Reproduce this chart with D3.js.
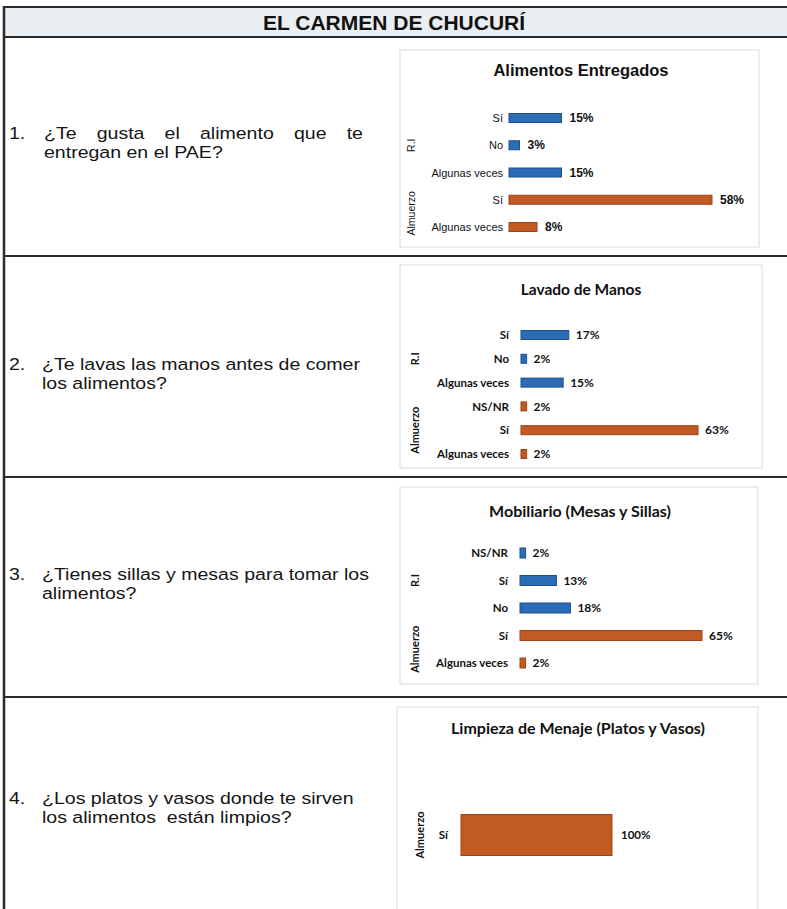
<!DOCTYPE html>
<html>
<head>
<meta charset="utf-8">
<script src="https://cdn.jsdelivr.net/npm/d3@7"></script>
<style>
  html, body { margin: 0; padding: 0; background: #fff; }
  svg { display: block; }
</style>
</head>
<body>
<svg id="page" width="787" height="909"></svg>
<script>
// ---- Content -------------------------------------------------------------
const pageTitle = "EL CARMEN DE CHUCURÍ";

const questionNumbers = ["1.", "2.", "3.", "4."];
const questionFirstLines = [
  "¿Te gusta el alimento que te",
  "¿Te lavas las manos antes de comer",
  "¿Tienes sillas y mesas para tomar los",
  "¿Los platos y vasos donde te sirven"
];
const questionSecondLines = [
  "entregan en el PAE?",
  "los alimentos?",
  "alimentos?",
  "los alimentos  están limpios?"
];

const chartTitles = [
  "Alimentos Entregados",
  "Lavado de Manos",
  "Mobiliario (Mesas y Sillas)",
  "Limpieza de Menaje (Platos y Vasos)"
];

// Chart 1: Alimentos Entregados
const alimentosCategories = ["Sí", "No", "Algunas veces", "Sí", "Algunas veces"];
const alimentosGroups     = ["R.I", "R.I", "R.I", "Almuerzo", "Almuerzo"];
const alimentosValues     = [15, 3, 15, 58, 8];

// Chart 2: Lavado de Manos
const lavadoCategories = ["Sí", "No", "Algunas veces", "NS/NR", "Sí", "Algunas veces"];
const lavadoGroups     = ["R.I", "R.I", "R.I", "Almuerzo", "Almuerzo", "Almuerzo"];
const lavadoValues     = [17, 2, 15, 2, 63, 2];

// Chart 3: Mobiliario (Mesas y Sillas)
const mobiliarioCategories = ["NS/NR", "Sí", "No", "Sí", "Algunas veces"];
const mobiliarioGroups     = ["R.I", "R.I", "R.I", "Almuerzo", "Almuerzo"];
const mobiliarioValues     = [2, 13, 18, 65, 2];

// Chart 4: Limpieza de Menaje (Platos y Vasos)
const limpiezaCategories = ["Sí"];
const limpiezaGroups     = ["Almuerzo"];
const limpiezaValues     = [100];

const groupColors = { "R.I": "#2b6cb7", "Almuerzo": "#c25a24" };
const groupStroke = { "R.I": "#1d4f8e", "Almuerzo": "#9b4419" };

// ---- Page table ----------------------------------------------------------
const svg = d3.select("#page");
const W = 787, H = 909;
const tableLeft = 4;
const rowLines = [37, 256, 477, 697];

svg.append("rect").attr("width", W).attr("height", H).attr("fill", "#fff");

// title band
svg.append("rect")
  .attr("x", tableLeft).attr("y", 7)
  .attr("width", W - tableLeft).attr("height", 30)
  .attr("fill", "#e9eef2");

svg.append("text")
  .attr("x", 394).attr("y", 30)
  .attr("text-anchor", "middle")
  .attr("font-family", "'Liberation Sans Narrow', 'Arial Narrow', 'Liberation Sans', Arial, sans-serif")
  .attr("font-weight", "bold")
  .attr("font-size", 21)
  .attr("fill", "#111")
  .text(pageTitle);

const lines = svg.append("g").attr("stroke", "#2a2a2a");
lines.append("line").attr("x1", tableLeft).attr("x2", W).attr("y1", 7).attr("y2", 7).attr("stroke-width", 2);
rowLines.forEach(y => {
  lines.append("line").attr("x1", tableLeft).attr("x2", W).attr("y1", y).attr("y2", y).attr("stroke-width", 2);
});
lines.append("line").attr("x1", tableLeft).attr("x2", tableLeft).attr("y1", 6).attr("y2", H).attr("stroke-width", 2.5);

// ---- Questions -----------------------------------------------------------
// Body text is set slightly wide (horizontal scale) with tight single spacing.
const qFont = "'Liberation Sans', Arial, Helvetica, sans-serif";
const qSize = 17, qStretch = 1.15;
const qBaselines = [[139, 158.5], [370, 389.5], [580, 599], [804, 823]];
const qTextX = 42, qNumX = 9, qRightEdge = 363;

const measure = svg.append("text")
  .attr("font-family", qFont).attr("font-size", qSize).attr("visibility", "hidden");
function textWidth(s) { measure.text(s); return measure.node().getComputedTextLength(); }

questionNumbers.forEach((num, i) => {
  const g = svg.append("g").attr("transform", `scale(${qStretch},1)`)
    .attr("font-family", qFont).attr("font-size", qSize).attr("fill", "#151515");
  const sx = v => v / qStretch;
  g.append("text").attr("x", sx(qNumX)).attr("y", qBaselines[i][0]).text(num);
  const start = i === 0 ? qTextX + 2 : qTextX;
  if (i === 0) {
    // first question is justified across the column
    const words = questionFirstLines[i].split(" ");
    const widths = words.map(textWidth);
    const gap = (sx(qRightEdge) - sx(start) - d3.sum(widths)) / (words.length - 1);
    const t = g.append("text").attr("y", qBaselines[i][0]);
    let x = sx(start);
    words.forEach((w, k) => {
      t.append("tspan").attr("x", x).text(w);
      x += widths[k] + gap;
    });
  } else {
    g.append("text").attr("x", sx(start)).attr("y", qBaselines[i][0]).text(questionFirstLines[i]);
  }
  g.append("text").attr("x", sx(start)).attr("y", qBaselines[i][1])
    .attr("xml:space", "preserve").style("white-space", "pre")
    .text(questionSecondLines[i]);
});
measure.remove();

// ---- Bar charts ----------------------------------------------------------
function drawChart(spec) {
  const { categories, groups, values, title } = spec;
  const g = svg.append("g").attr("font-family", spec.font);

  g.append("rect")
    .attr("x", spec.box[0]).attr("y", spec.box[1])
    .attr("width", spec.box[2]).attr("height", spec.box[3])
    .attr("fill", "#fff").attr("stroke", "#d8dde2").attr("stroke-width", 1);

  g.append("text")
    .attr("x", spec.titleX).attr("y", spec.titleY)
    .attr("text-anchor", "middle")
    .attr("font-weight", "bold").attr("font-size", spec.titleSize)
    .attr("fill", "#111")
    .text(title);

  const idx = d3.range(categories.length);
  const x = d3.scaleLinear().domain([0, 100]).range([spec.x0, spec.x0 + spec.fullWidth]);
  const y = d3.scalePoint().domain(idx).range(spec.yRange);

  // category axis
  const axis = d3.axisLeft(y)
    .tickSize(0).tickPadding(spec.labelGap)
    .tickFormat(i => categories[i]);
  const ax = g.append("g").attr("transform", `translate(${spec.x0},0)`).call(axis);
  ax.select(".domain").remove();
  ax.selectAll("text")
    .attr("font-family", spec.font)
    .attr("font-size", spec.labelSize)
    .attr("font-weight", spec.labelWeight)
    .attr("fill", "#111");

  // bars
  g.selectAll("rect.bar").data(idx).join("rect")
    .attr("class", "bar")
    .attr("x", x(0))
    .attr("y", i => y(i) - spec.barH / 2)
    .attr("width", i => x(values[i]) - x(0))
    .attr("height", spec.barH)
    .attr("fill", i => groupColors[groups[i]])
    .attr("stroke", i => groupStroke[groups[i]])
    .attr("stroke-width", 1);

  // value labels
  g.selectAll("text.val").data(idx).join("text")
    .attr("class", "val")
    .attr("x", i => x(values[i]) + spec.valueGap)
    .attr("y", i => y(i))
    .attr("dy", "0.35em")
    .attr("font-weight", "bold").attr("font-size", spec.valueSize)
    .attr("fill", "#111")
    .text(i => values[i] + "%");

  // group labels (rotated)
  const groupNames = Array.from(new Set(groups));
  groupNames.forEach(name => {
    const members = idx.filter(i => groups[i] === name);
    const cy = (y(members[0]) + y(members[members.length - 1])) / 2;
    g.append("text")
      .attr("transform", `translate(${spec.groupX},${cy}) rotate(-90)`)
      .attr("text-anchor", "middle").attr("dy", "0.35em")
      .attr("font-weight", spec.groupWeight).attr("font-size", spec.groupSize)
      .attr("fill", "#111")
      .text(name);
  });
}

const arial = "'Liberation Sans', Arial, Helvetica, sans-serif";
const calibriLike = "Lato, 'Open Sans', 'Liberation Sans', sans-serif";

drawChart({
  categories: alimentosCategories, groups: alimentosGroups, values: alimentosValues,
  title: chartTitles[0], font: arial,
  box: [400, 50, 359, 197], titleX: 581, titleY: 76, titleSize: 16.5,
  x0: 509, fullWidth: 350, yRange: [118, 227], barH: 9,
  labelGap: 6, labelSize: 11, labelWeight: "normal",
  valueGap: 8, valueSize: 12, groupX: 411, groupSize: 10.5, groupWeight: "normal"
});

drawChart({
  categories: lavadoCategories, groups: lavadoGroups, values: lavadoValues,
  title: chartTitles[1], font: calibriLike,
  box: [400, 265, 362, 203], titleX: 581, titleY: 295, titleSize: 15.5,
  x0: 521, fullWidth: 281, yRange: [335, 454], barH: 9,
  labelGap: 12, labelSize: 11.5, labelWeight: "bold",
  valueGap: 7, valueSize: 12, groupX: 415, groupSize: 11, groupWeight: "bold"
});

drawChart({
  categories: mobiliarioCategories, groups: mobiliarioGroups, values: mobiliarioValues,
  title: chartTitles[2], font: calibriLike,
  box: [400, 487, 358, 197], titleX: 580, titleY: 517, titleSize: 16,
  x0: 520, fullWidth: 280, yRange: [553, 663], barH: 10,
  labelGap: 12, labelSize: 11.5, labelWeight: "bold",
  valueGap: 7, valueSize: 12, groupX: 415, groupSize: 11, groupWeight: "bold"
});

drawChart({
  categories: limpiezaCategories, groups: limpiezaGroups, values: limpiezaValues,
  title: chartTitles[3], font: calibriLike,
  box: [397, 707, 361, 210], titleX: 578, titleY: 734, titleSize: 16,
  x0: 461, fullWidth: 151, yRange: [835, 835], barH: 41,
  labelGap: 13, labelSize: 11.5, labelWeight: "bold",
  valueGap: 9, valueSize: 11.5, groupX: 420, groupSize: 11, groupWeight: "bold"
});
</script>
</body>
</html>
